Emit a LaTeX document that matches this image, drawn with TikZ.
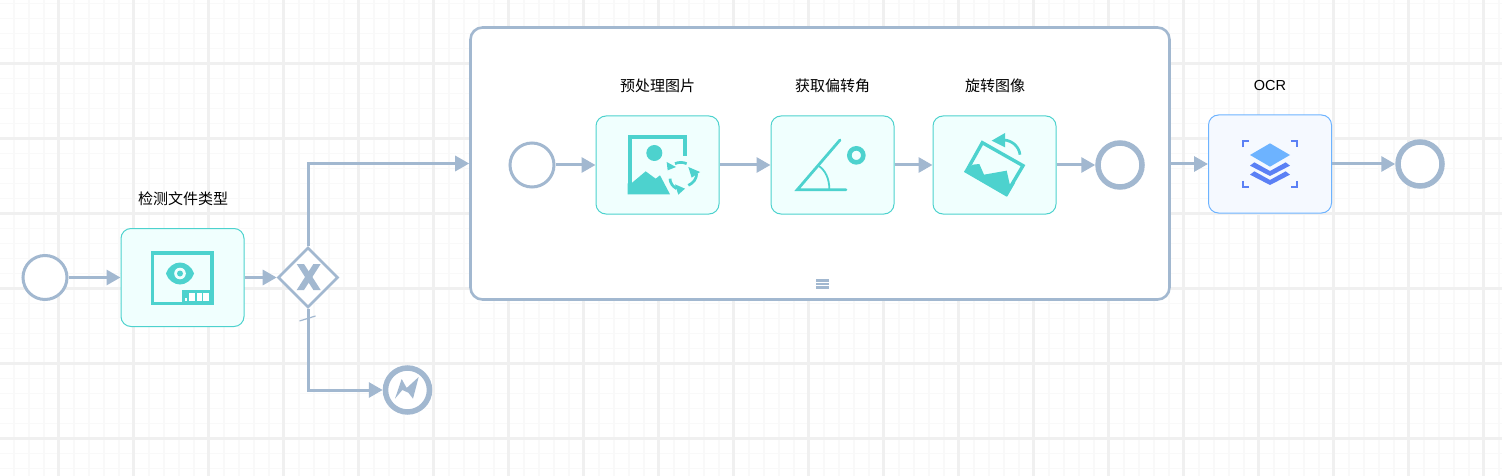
\documentclass[tikz,border=0pt]{standalone}
\usepackage{fontspec}
\setmainfont{Liberation Sans}
\newfontfamily\cjkfont{Noto Sans CJK SC}
\usetikzlibrary{arrows.meta,shapes.geometric}
\definecolor{flowcol}{HTML}{A2B8D0}
\definecolor{tealcol}{HTML}{4DD2CE}
\definecolor{tealbg}{HTML}{F0FFFE}
\definecolor{ocrline}{HTML}{6DB3FF}
\definecolor{ocrbg}{HTML}{F5F9FF}
\definecolor{ocrdark}{HTML}{5B80F5}
\definecolor{gridmajor}{HTML}{F0F0F0}
\definecolor{gridminor}{HTML}{F9F9F9}
\tikzset{
    flow/.style={draw=flowcol,line width=3pt,-{Triangle[length=14pt,width=15pt]}},
    startev/.style={circle,draw=flowcol,fill=white,line width=3pt,minimum size=44pt,inner sep=0pt},
    endev/.style={circle,draw=flowcol,fill=white,line width=5.5pt,minimum size=44pt,inner sep=0pt},
    taskbox/.style={rectangle,rounded corners=10pt,draw=tealcol,fill=tealbg,line width=1pt,minimum width=123pt,minimum height=98pt,inner sep=0pt},
    ocrbox/.style={taskbox,draw=ocrline,fill=ocrbg},
    gate/.style={diamond,draw=flowcol,fill=white,line width=2.6pt,minimum width=60pt,minimum height=60pt,inner sep=0pt},
    subbox/.style={rectangle,rounded corners=12pt,draw=flowcol,fill=white,line width=2.6pt,minimum width=699pt,minimum height=272pt,inner sep=0pt},
    lab/.style={font=\fontsize{15}{17}\selectfont\cjkfont,text=black,inner sep=0pt},
    zoomed/.style={shift={#1},scale=1/3}
}
\begin{document}
\begin{tikzpicture}[x=1pt,y=-1pt]
    \useasboundingbox (0,0) rectangle (1502,476);
    \fill[white] (0,0) rectangle (1502,476);
    % background grid
    \foreach \i in {0,...,100} {
        \draw[gridminor,line width=1.7pt] ({-1+15*\i},0) -- ({-1+15*\i},476);
    }
    \foreach \i in {0,...,32} {
        \draw[gridminor,line width=1.7pt] (0,{3.5+15*\i}) -- (1502,{3.5+15*\i});
    }
    \foreach \i in {0,...,19} {
        \draw[gridmajor,line width=3pt] ({58.5+75*\i},0) -- ({58.5+75*\i},476);
    }
    \foreach \i in {0,...,5} {
        \draw[gridmajor,line width=3pt] (0,{63.5+75*\i}) -- (1502,{63.5+75*\i});
    }

    \node[startev] (start1) at (45,277.5) {};
    \node[taskbox] (detect) at (182.5,277.5) {};
    \node[gate] (gate1) at (308,277.5) {};
    \node[endev] (errend) at (407.5,390) {};
    \node[subbox] (sub1) at (820,163.5) {};
    \node[startev] (start2) at (532,165) {};
    \node[taskbox] (prep) at (657.5,165) {};
    \node[taskbox] (angle) at (832.5,165) {};
    \node[taskbox] (rotate) at (994.5,165) {};
    \node[endev] (end2) at (1120,165) {};
    \node[ocrbox] (ocr) at (1270,164) {};
    \node[endev] (end3) at (1420,164) {};

    \node[lab] (lab1) at (183,199) {检测文件类型};
    \node[lab] (lab2) at (657.5,86) {预处理图片};
    \node[lab] (lab3) at (832.5,86) {获取偏转角};
    \node[lab] (lab4) at (995,86) {旋转图像};
    \node[lab,font=\fontsize{14.5}{16}\selectfont] (lab5) at (1270,85.5) {OCR};

    \draw[flow] (start1) -- (detect);
    \draw[flow] (detect) -- (gate1);
    \draw[flow] (gate1.north) |- (sub1.west);
    \draw[flow] (gate1.south) |- (errend.west);
    \draw[flow] (start2) -- (prep);
    \draw[flow] (prep) -- (angle);
    \draw[flow] (angle) -- (rotate);
    \draw[flow] (rotate) -- (end2);
    \draw[flow] (sub1.east |- ocr) -- (ocr);
    \draw[flow] (ocr) -- (end3);

    % default flow tick
    \coordinate (tick1) at (299.5,321);
    \coordinate (tick2) at (315.5,316);
    \draw[flowcol,line width=1.2pt] (tick1) -- (tick2);

    % gateway X
    \fill[flowcol] (296.7,264) -- (304,264) -- (320.7,290) -- (313.4,290) -- cycle;
    \fill[flowcol] (320.7,264) -- (313.4,264) -- (296.7,290) -- (304,290) -- cycle;

    % lightning
    \fill[flowcol,zoomed={(385,368)}] (30,92) -- (50,33) -- (65,60) -- (101,27) -- (84,92) -- (70,74) -- (52,66) -- cycle;

    % hamburger
    \foreach \y in {280.3,284,287.7} {
        \draw[flowcol,line width=2.5pt] (816,\y) -- (829,\y);
    }

    % monitor icon
    \begin{scope}
        \draw[tealcol,line width=3.4pt] (152.7,253) rectangle (212,303.3);
        \fill[tealcol] (182.3,290) rectangle (213.7,305);
        \fill[white] (184.5,297.5) rectangle (187.3,300.7);
        \fill[white] (189.3,293.3) rectangle (194.7,300.7);
        \fill[white] (196.7,293.3) rectangle (201.7,300.7);
        \fill[white] (203.3,293.3) rectangle (209.3,300.7);
        \fill[tealcol] (166,273.5) .. controls (168,267) and (174,262.5) .. (180,262.5) .. controls (186,262.5) and (192,267) .. (194,273.5) .. controls (192,280) and (186,284.5) .. (180,284.5) .. controls (174,284.5) and (168,280) .. (166,273.5) -- cycle;
        \fill[tealbg] (180,273.5) circle (5.8);
        \fill[tealcol] (180,273.5) circle (3);
    \end{scope}

    % picture with refresh icon
    \begin{scope}[zoomed={(590,100)}]
        \draw[tealcol,line width=3.8pt] (119,283) -- (119,111) -- (286,111) -- (286,167);
        \fill[tealcol] (193,159) circle (24);
        \fill[tealcol] (113,283) -- (113,250) -- (124,250) -- (167,214) -- (197,236) -- (210,226) -- (240,283) -- cycle;
        \fill[tealbg] (277,226) circle (57);
        \begin{scope}[tealcol,line width=2.7pt]
            \draw (255,191) .. controls (265,186) and (280,186) .. (290,191);
            \draw (320,221) .. controls (320,235) and (310,250) .. (295,256);
            \draw (240,236) .. controls (240,248) and (248,260) .. (260,266);
        \end{scope}
        \fill[tealcol] (230,186) -- (258,201) -- (233,211) -- cycle;
        \fill[tealcol] (295,201) -- (330,216) -- (305,233) -- cycle;
        \fill[tealcol] (255,253) -- (285,266) -- (265,284) -- cycle;
    \end{scope}

    % angle icon
    \begin{scope}[zoomed={(590,100)}]
        \draw[tealcol,line width=2.8pt,line cap=round] (750,120) -- (622,269) -- (768,269);
        \draw[tealcol,line width=1.8pt] (685,197) .. controls (706,210) and (718,236) .. (718,268);
        \draw[tealcol,line width=4.6pt] (799,166) circle (21);
    \end{scope}

    % rotated picture icon
    \begin{scope}[zoomed={(925,100)}]
        \draw[tealcol,line width=3.4pt] (172,128) -- (294,197) -- (243,283) -- (124,214) -- cycle;
        \fill[tealcol] (117,214) -- (143,194) -- (163,192) -- (177,224) -- (245,212) -- (255,256) -- (270,249) -- (247,289) -- cycle;
        \draw[tealcol,line width=2.7pt] (285,164) .. controls (282,140) and (262,122) .. (238,120);
        \fill[tealcol] (200,122) -- (240,99) -- (240,142) -- cycle;
    \end{scope}

    % ocr icon
    \begin{scope}[zoomed={(1190,100)}]
        \fill[ocrline] (240,130) -- (300,165) -- (240,200) -- (180,165) -- cycle;
        \fill[ocrdark] (180,197) -- (193,187) -- (240,213) -- (287,187) -- (300,197) -- (240,228) -- cycle;
        \fill[ocrdark] (180,224) -- (193,214) -- (240,240) -- (287,214) -- (300,224) -- (240,255) -- cycle;
        \begin{scope}[ocrdark,line width=2pt]
            \draw (159,142) -- (159,123) -- (178,123);
            \draw (303,123) -- (322,123) -- (322,142);
            \draw (159,243) -- (159,261) -- (178,261);
            \draw (303,261) -- (322,261) -- (322,243);
        \end{scope}
    \end{scope}
\end{tikzpicture}
\end{document}
